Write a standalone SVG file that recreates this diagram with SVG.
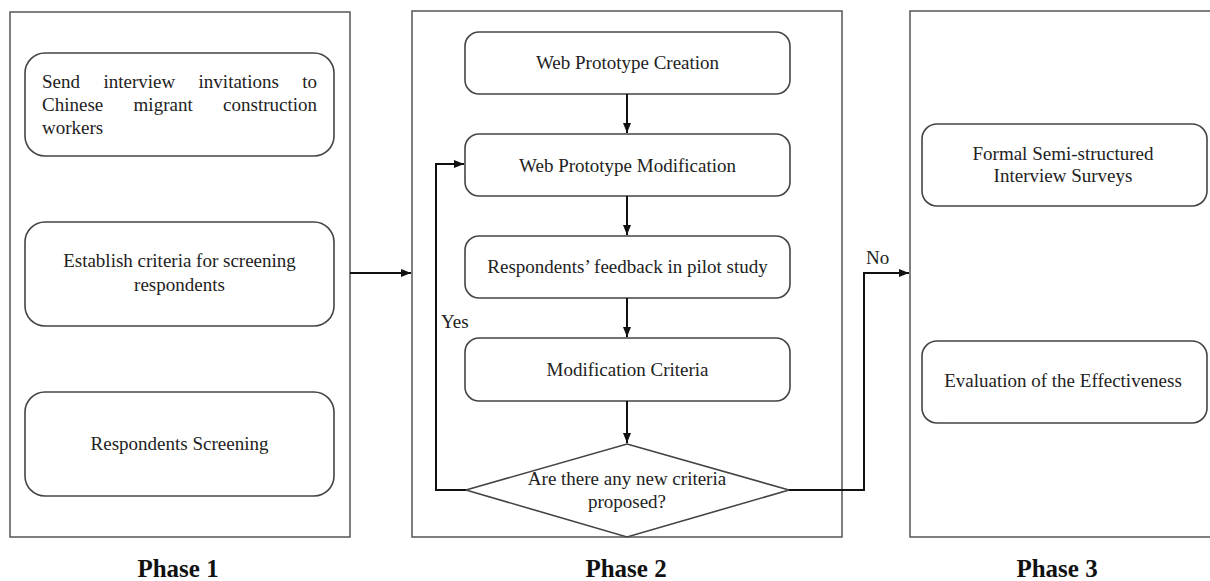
<svg xmlns="http://www.w3.org/2000/svg" width="1210" height="581" viewBox="0 0 1210 581">
<style>
.phase{fill:#fff;stroke:#555;stroke-width:1.5}
.box{fill:#fff;stroke:#444;stroke-width:1.6}
.t{font-size:19px;fill:#222}
.c{text-anchor:middle}
.lbl{font-size:25px;font-weight:bold;fill:#111;text-anchor:middle}
.con{fill:none;stroke:#111;stroke-width:2}
</style>
<defs>
<marker id="ah" markerUnits="userSpaceOnUse" markerWidth="10" markerHeight="10" viewBox="0 0 10 10" refX="10" refY="5" orient="auto">
<path d="M0,1 L10,5 L0,9 Z" fill="#111"/>
</marker>
</defs>
<g font-family="'Liberation Serif', 'Times New Roman', 'DejaVu Serif', serif">
<g id="phase1">
<rect class="phase" x="10" y="12" width="340" height="525"/>
<text class="lbl" x="178" y="577">Phase 1</text>
</g>
<g id="phase2">
<rect class="phase" x="412" y="11" width="430" height="526"/>
<text class="lbl" x="626" y="577">Phase 2</text>
</g>
<g id="phase3">
<rect class="phase" x="910" y="11" width="310" height="526"/>
<text class="lbl" x="1057" y="577">Phase 3</text>
</g>

<g id="p1-invite">
<rect class="box" x="25" y="53" width="309" height="103" rx="20"/>
<text class="t" x="42" y="88">Send</text>
<text class="t" x="103.4" y="88">interview</text>
<text class="t" x="198.6" y="88">invitations</text>
<text class="t" x="317" y="88" text-anchor="end">to</text>
<text class="t" x="42" y="111">Chinese</text>
<text class="t" x="133.6" y="111">migrant</text>
<text class="t" x="317" y="111" text-anchor="end">construction</text>
<text class="t" x="42" y="134">workers</text>
</g>
<g id="p1-criteria">
<rect class="box" x="25" y="222" width="309" height="104" rx="20"/>
<text class="t c" x="179.5" y="267">Establish criteria for screening</text>
<text class="t c" x="179.5" y="291">respondents</text>
</g>
<g id="p1-screening">
<rect class="box" x="25" y="392" width="309" height="104" rx="20"/>
<text class="t c" x="179.5" y="450">Respondents Screening</text>
</g>

<g id="p2-creation">
<rect class="box" x="465" y="32" width="325" height="62" rx="14"/>
<text class="t c" x="627.5" y="69">Web Prototype Creation</text>
</g>
<g id="p2-modification">
<rect class="box" x="465" y="134" width="325" height="62" rx="14"/>
<text class="t c" x="627.5" y="172">Web Prototype Modification</text>
</g>
<g id="p2-feedback">
<rect class="box" x="465" y="236" width="325" height="62" rx="14"/>
<text class="t c" x="627.5" y="273">Respondents’ feedback in pilot study</text>
</g>
<g id="p2-criteria">
<rect class="box" x="465" y="338" width="325" height="63" rx="14"/>
<text class="t c" x="627.5" y="376">Modification Criteria</text>
</g>
<g id="p2-decision">
<polygon class="box" points="627,444 789,490 627,537 466,490"/>
<text class="t c" x="627" y="485">Are there any new criteria</text>
<text class="t c" x="627" y="508">proposed?</text>
</g>

<g id="p3-interview">
<rect class="box" x="922" y="124" width="285" height="82" rx="15"/>
<text class="t c" x="1063" y="160">Formal Semi-structured</text>
<text class="t c" x="1063" y="182">Interview Surveys</text>
</g>
<g id="p3-evaluation">
<rect class="box" x="922" y="341" width="285" height="82" rx="15"/>
<text class="t c" x="1063" y="387">Evaluation of the Effectiveness</text>
</g>

<g id="connectors">
<path class="con" d="M350,273 H411" marker-end="url(#ah)"/>
<path class="con" d="M627,94 V133" marker-end="url(#ah)"/>
<path class="con" d="M627,196 V235" marker-end="url(#ah)"/>
<path class="con" d="M627,298 V337" marker-end="url(#ah)"/>
<path class="con" d="M627,401 V443" marker-end="url(#ah)"/>
<path class="con" d="M466,490 H436 V164 H464" marker-end="url(#ah)"/>
<path class="con" d="M789,490 H864 V273 H909" marker-end="url(#ah)"/>
<text class="t" x="441" y="328">Yes</text>
<text class="t" x="866" y="264">No</text>
</g>
</g>
</svg>
